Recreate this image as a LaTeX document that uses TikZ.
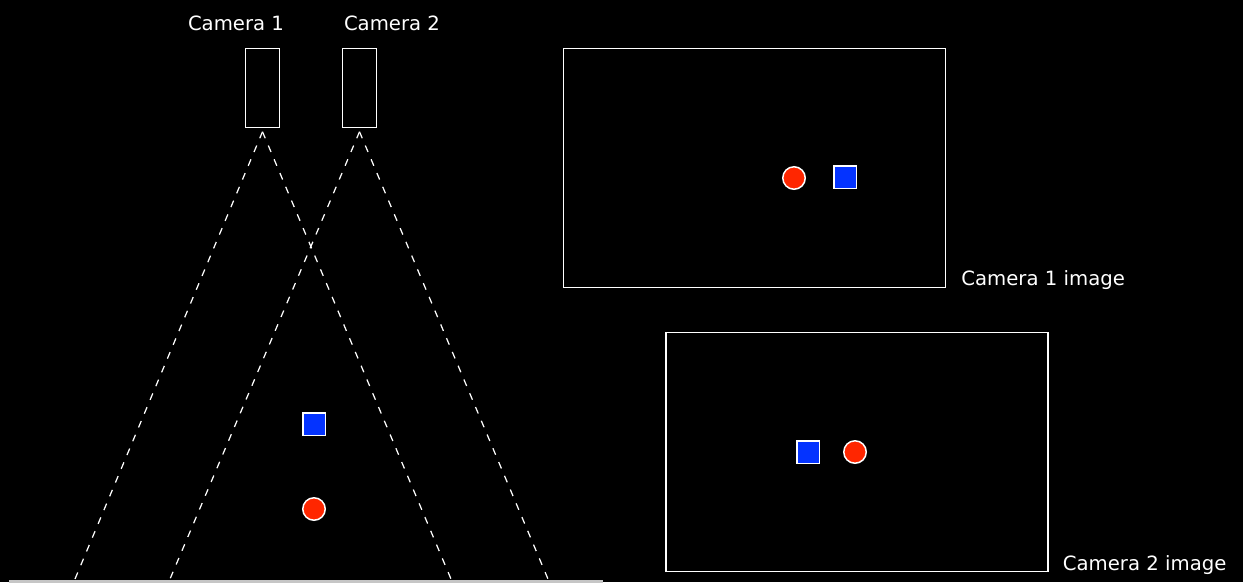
\documentclass[tikz,border=0pt]{standalone}
\usepackage{fontspec}
\setmainfont{DejaVu Sans}
\definecolor{keyred}{HTML}{FF2600}
\definecolor{keyblue}{HTML}{0433FF}

\begin{document}
\begin{tikzpicture}[x=0.02cm, y=-0.02cm, font=\fontsize{11.2}{13}\selectfont,
    every node/.style={text=white},
    cambox/.style={draw=white, line width=0.85pt, minimum width=0.68cm, minimum height=1.58cm, inner sep=0pt},
    frame/.style={draw=white, line width=0.85pt, minimum width=7.64cm, minimum height=4.78cm, inner sep=0pt},
    ball/.style={circle, draw=white, line width=0.85pt, fill=keyred, minimum size=0.45cm, inner sep=0pt},
    block/.style={rectangle, draw=white, line width=0.85pt, fill=keyblue, minimum size=0.45cm, inner sep=0pt},
    ray/.style={white, line width=0.7pt, dash pattern=on 4pt off 4.5pt}]
    \fill[black] (0,0) rectangle (1243,582);
    \useasboundingbox (0,0) rectangle (1243,582);
    % The two cameras and where they look.
        \node[cambox] (cam1) at (262.5,88) {};
        \node[cambox] (cam2) at (359.5,88) {};
        \node[] (lab1) at (236,23) {Camera 1};
        \node[] (lab2) at (392,23) {Camera 2};
        \coordinate (c1l) at (75,579);
        \coordinate (c1r) at (451,579);
        \coordinate (c2l) at (170,579);
        \coordinate (c2r) at (548,579);
        \draw[ray] ([yshift=-2pt]cam1.south) -- (c1l);
        \draw[ray] ([yshift=-2pt]cam1.south) -- (c1r);
        \draw[ray] ([yshift=-2pt]cam2.south) -- (c2l);
        \draw[ray] ([yshift=-2pt]cam2.south) -- (c2r);
        \draw[gray!45, line width=1.5pt] (9,581.5) -- (603,581.5);
    % Objects in the scene.
        \node[block] (sq) at (314,424) {};
        \node[ball] (bl) at (314,509) {};
    % The two pictures.
        \node[frame] (img1) at (754.5,168) {};
        \node[frame] (img2) at (857,452) {};
        \node[anchor=base west] (txt1) at ([xshift=0.18cm, yshift=0.05cm]img1.south east) {Camera 1 image};
        \node[anchor=base west] (txt2) at ([xshift=0.16cm, yshift=0.04cm]img2.south east) {Camera 2 image};
        \node[ball] (bl1) at (794,178) {};
        \node[block] (sq1) at (845,177) {};
        \node[block] (sq2) at (808,452) {};
        \node[ball] (bl2) at (855,452) {};
\end{tikzpicture}
\end{document}
